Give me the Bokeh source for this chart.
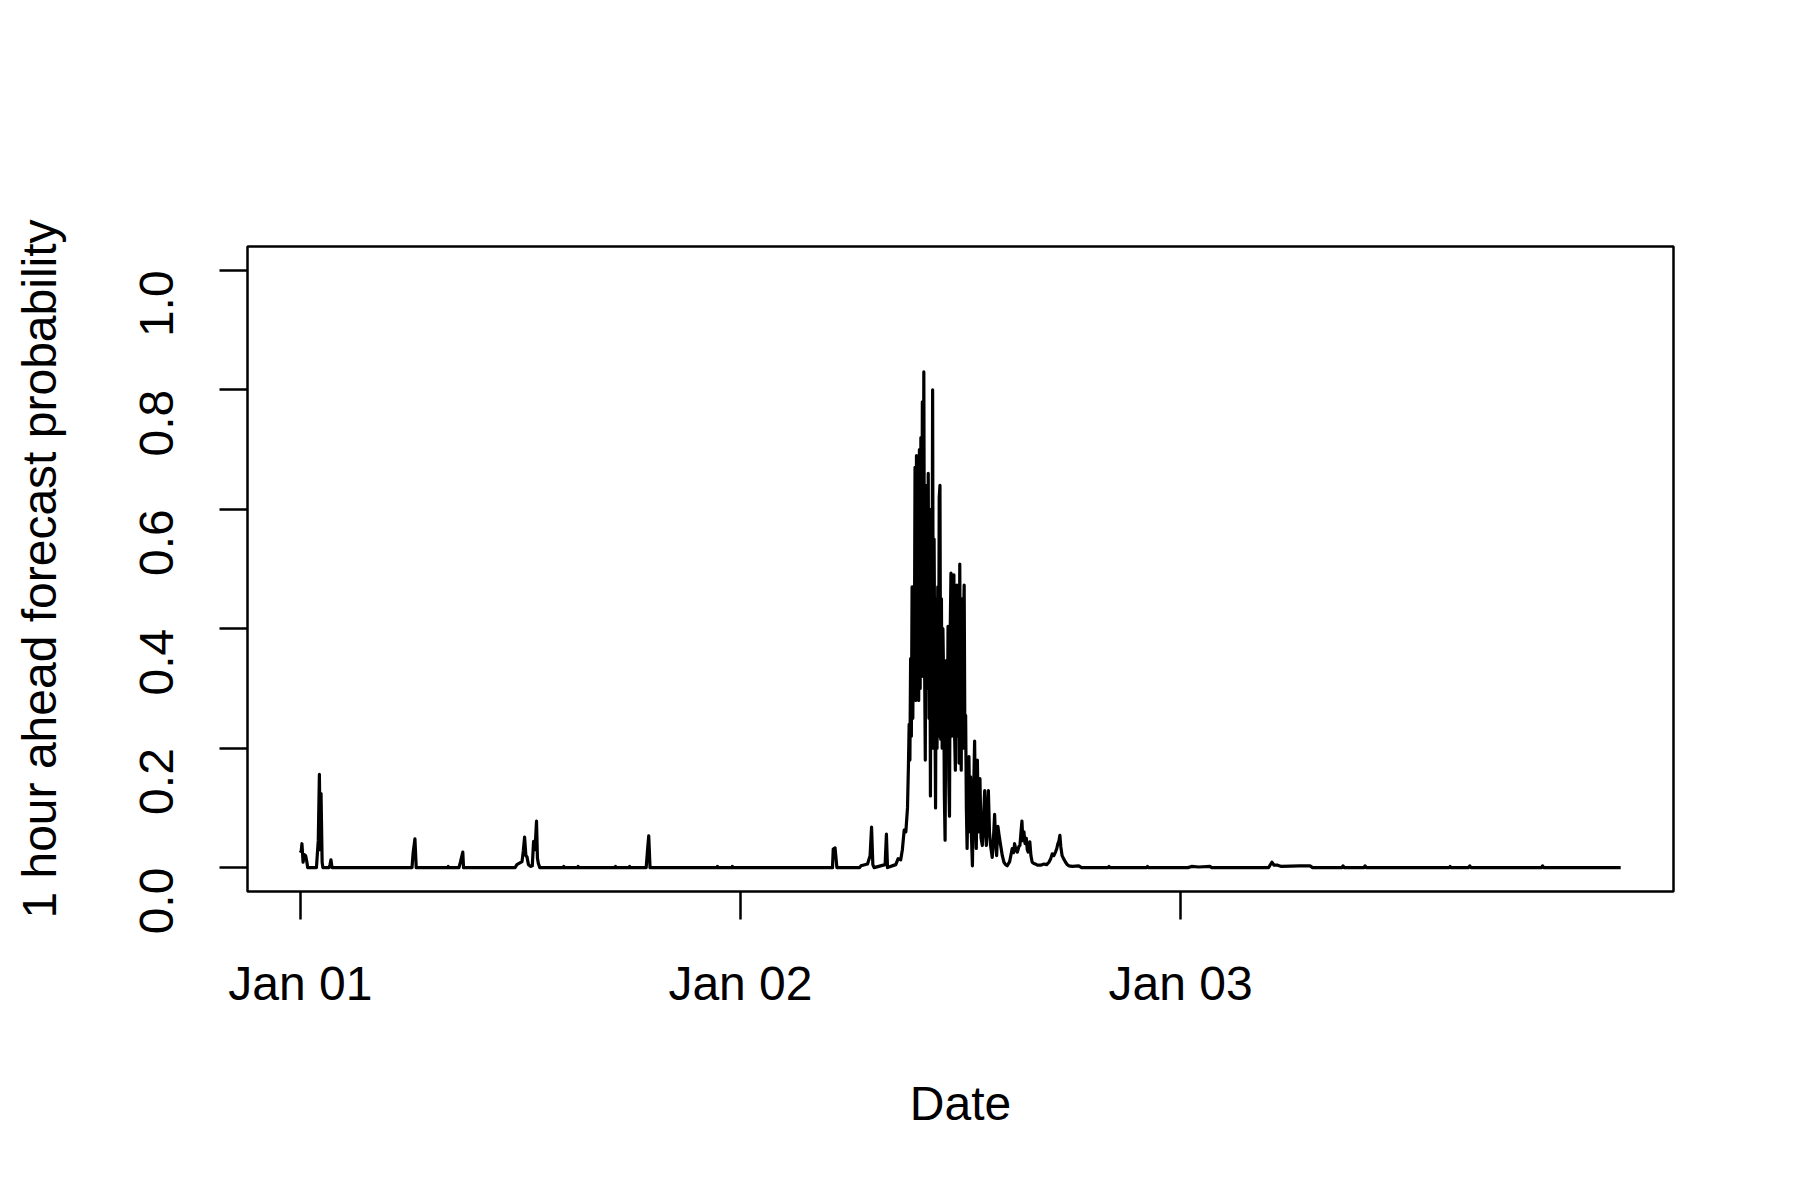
from bokeh.plotting import figure
from bokeh.models import FixedTicker, Range1d, ColumnDataSource
from bokeh.embed import file_html
from bokeh.resources import INLINE
import math

# ---- data: hours since Jan 01 00:00, 1 hour ahead forecast probability ----
hours = [
    0.00, 0.05, 0.09, 0.15, 0.21, 0.29, 0.36, 0.40,
    0.88, 0.98, 1.04, 1.09, 1.13, 1.19, 1.23,
    1.57, 1.62, 1.67, 1.73,
    6.09, 6.15, 6.25, 6.32,
    8.05, 8.07, 8.09,
    8.65, 8.73, 8.86, 8.90,
    11.71, 11.81, 12.09, 12.16, 12.23, 12.30, 12.36, 12.44, 12.55, 12.65, 12.72, 12.80, 12.88, 12.93, 12.98, 13.06,
    14.35, 14.37, 14.40, 15.13, 15.15, 15.18, 17.17, 17.19, 17.22, 17.94, 17.96, 17.99,
    18.86, 18.93, 19.00, 19.07,
    22.73, 22.75, 22.78, 23.54, 23.56, 23.59,
    29.02, 29.06, 29.16, 29.26,
    30.50, 30.57, 30.93, 31.07, 31.15, 31.22, 31.29,
    31.89, 31.96, 32.02,
    32.47, 32.60, 32.74, 32.83, 32.93, 33.02, 33.11, 33.16,
    33.20, 33.24, 33.28, 33.32, 33.36, 33.40, 33.44, 33.48, 33.52, 33.56,
    33.60, 33.64, 33.68, 33.72, 33.76, 33.80, 33.84, 33.88, 33.92, 33.96,
    34.00, 34.04, 34.08, 34.12, 34.16, 34.20, 34.24, 34.28, 34.32, 34.36,
    34.40, 34.44, 34.48, 34.52, 34.56, 34.60, 34.64, 34.68, 34.72, 34.76,
    34.80, 34.84, 34.88, 34.92, 34.96, 35.00, 35.04, 35.08, 35.12, 35.16,
    35.20, 35.24, 35.28, 35.32, 35.36, 35.40, 35.44, 35.48, 35.52, 35.56,
    35.60, 35.64, 35.68, 35.72, 35.76, 35.80, 35.84, 35.88, 35.92, 35.96,
    36.00, 36.04, 36.08, 36.12, 36.16, 36.20, 36.24, 36.28, 36.32, 36.36,
    36.42, 36.46, 36.51, 36.55,
    36.60, 36.65, 36.70, 36.77, 36.82, 36.86, 36.92, 36.98, 37.02, 37.06,
    37.12, 37.19, 37.25, 37.32, 37.37, 37.41, 37.47, 37.52, 37.58, 37.64,
    37.73, 37.80, 37.86, 37.92, 37.97, 38.04, 38.10, 38.19, 38.28, 38.37,
    38.46, 38.55, 38.68, 38.82, 38.90, 38.95, 39.02, 39.10, 39.18, 39.24,
    39.30, 39.35, 39.40, 39.46, 39.52, 39.59, 39.64, 39.69, 39.74, 39.78,
    39.84, 39.91, 40.00, 40.09, 40.20, 40.37, 40.55, 40.70, 40.82, 40.92,
    41.00, 41.09, 41.18, 41.25, 41.31, 41.37, 41.42, 41.47, 41.54, 41.62,
    41.73, 41.82, 41.91, 42.10, 42.45, 42.60,
    44.05, 44.10, 44.15, 46.15, 46.20, 46.25,
    48.40, 48.60, 49.00, 49.60, 49.70,
    52.80, 52.98, 53.10, 53.30, 53.50, 54.50, 55.06, 55.20,
    56.80, 56.86, 56.92, 58.00, 58.06, 58.12,
    62.65, 62.70, 62.75, 63.70, 63.77, 63.84, 67.68, 67.74, 67.80,
    72.00,
]
probability = [
    0.025, 0.028, 0.040, 0.009, 0.022, 0.020, 0.009, 0.000,
    0.000, 0.046, 0.156, 0.030, 0.124, 0.009, 0.000,
    0.000, 0.005, 0.013, 0.000,
    0.000, 0.024, 0.048, 0.000,
    0.000, 0.002, 0.000,
    0.000, 0.009, 0.026, 0.000,
    0.000, 0.005, 0.010, 0.028, 0.051, 0.020, 0.018, 0.005, 0.002, 0.003, 0.044, 0.030, 0.078, 0.016, 0.007, 0.000,
    0.000, 0.002, 0.000, 0.000, 0.002, 0.000, 0.000, 0.002, 0.000, 0.000, 0.002, 0.000,
    0.000, 0.028, 0.053, 0.000,
    0.000, 0.002, 0.000, 0.000, 0.002, 0.000,
    0.000, 0.031, 0.033, 0.000,
    0.000, 0.003, 0.006, 0.020, 0.068, 0.005, 0.000,
    0.005, 0.056, 0.000,
    0.005, 0.015, 0.013, 0.030, 0.063, 0.060, 0.100, 0.170,
    0.240, 0.180, 0.350, 0.220, 0.470, 0.250, 0.470, 0.300, 0.670, 0.280,
    0.690, 0.300, 0.660, 0.280, 0.700, 0.300, 0.720, 0.350, 0.780, 0.320,
    0.830, 0.350, 0.180, 0.620, 0.640, 0.300, 0.660, 0.250, 0.600, 0.120,
    0.500, 0.250, 0.800, 0.200, 0.550, 0.300, 0.100, 0.450, 0.200, 0.470,
    0.220, 0.620, 0.640, 0.215, 0.450, 0.200, 0.400, 0.315, 0.120, 0.046,
    0.300, 0.347, 0.180, 0.404, 0.150, 0.086, 0.400, 0.493, 0.220, 0.490,
    0.250, 0.490, 0.220, 0.163, 0.450, 0.473, 0.220, 0.450, 0.175, 0.508,
    0.250, 0.163, 0.450, 0.200, 0.400, 0.473, 0.200, 0.255, 0.100, 0.032,
    0.150, 0.186, 0.060, 0.152,
    0.050, 0.003, 0.100, 0.212, 0.080, 0.032, 0.180, 0.060, 0.100, 0.149,
    0.050, 0.037, 0.080, 0.129, 0.060, 0.037, 0.090, 0.129, 0.060, 0.037,
    0.017, 0.050, 0.089, 0.040, 0.020, 0.069, 0.055, 0.037, 0.020, 0.009,
    0.005, 0.003, 0.010, 0.032, 0.025, 0.040, 0.030, 0.026, 0.035, 0.037,
    0.060, 0.078, 0.045, 0.060, 0.040, 0.049, 0.030, 0.026, 0.035, 0.043,
    0.020, 0.009, 0.007, 0.006, 0.004, 0.004, 0.006, 0.005, 0.009, 0.015,
    0.023, 0.020, 0.026, 0.032, 0.040, 0.045, 0.054, 0.035, 0.020, 0.015,
    0.009, 0.005, 0.003, 0.002, 0.003, 0.000,
    0.000, 0.002, 0.000, 0.000, 0.002, 0.000,
    0.000, 0.002, 0.001, 0.002, 0.000,
    0.000, 0.009, 0.004, 0.004, 0.002, 0.003, 0.003, 0.000,
    0.000, 0.003, 0.000, 0.000, 0.003, 0.000,
    0.000, 0.002, 0.000, 0.000, 0.003, 0.000, 0.000, 0.003, 0.000,
    0.000,
]

x_tick_hours = [0, 24, 48]
x_tick_labels = ["Jan 01", "Jan 02", "Jan 03"]
y_ticks = [0.0, 0.2, 0.4, 0.6, 0.8, 1.0]
y_tick_labels = ["0.0", "0.2", "0.4", "0.6", "0.8", "1.0"]

FONT = "Liberation Sans"
FS = "48px"

span = max(hours) - min(hours)
p = figure(
    width=1792, height=1192,
    output_backend="svg", toolbar_location=None,
    x_range=Range1d(min(hours) - 0.04 * span, max(hours) + 0.04 * span),
    y_range=Range1d(-0.04, 1.04),
    min_border_left=247, min_border_right=119,
    min_border_top=246, min_border_bottom=301,
    x_axis_label="Date",
    y_axis_label="1 hour ahead forecast probability",
)
p.background_fill_color = "white"
p.border_fill_color = "white"
p.outline_line_color = "black"
p.outline_line_width = 2.5
p.xgrid.visible = False
p.ygrid.visible = False

src = ColumnDataSource(dict(x=hours, y=probability))
p.line("x", "y", source=src, line_color="black", line_width=3.2, line_join="round")

for ax in (p.xaxis[0], p.yaxis[0]):
    ax.axis_line_color = None
    ax.major_tick_out = 28
    ax.major_tick_in = 0
    ax.minor_tick_line_color = None
    ax.major_tick_line_color = "black"
    ax.major_tick_line_width = 2.5
    ax.major_label_text_font = FONT
    ax.major_label_text_font_size = FS
    ax.major_label_text_color = "black"
    ax.axis_label_text_font = FONT
    ax.axis_label_text_font_size = FS
    ax.axis_label_text_font_style = "normal"
    ax.axis_label_text_color = "black"

p.xaxis[0].ticker = FixedTicker(ticks=x_tick_hours)
p.xaxis[0].major_label_overrides = {t: l for t, l in zip(x_tick_hours, x_tick_labels)}
p.xaxis[0].major_label_standoff = 37
p.xaxis[0].axis_label_standoff = 64

p.yaxis[0].ticker = FixedTicker(ticks=y_ticks)
p.yaxis[0].major_label_overrides = {t: l for t, l in zip(y_ticks, y_tick_labels)}
p.yaxis[0].major_label_orientation = math.pi / 2
p.yaxis[0].major_label_standoff = 63
p.yaxis[0].axis_label_standoff = 55

open("out.html", "w").write(file_html(p, INLINE))
